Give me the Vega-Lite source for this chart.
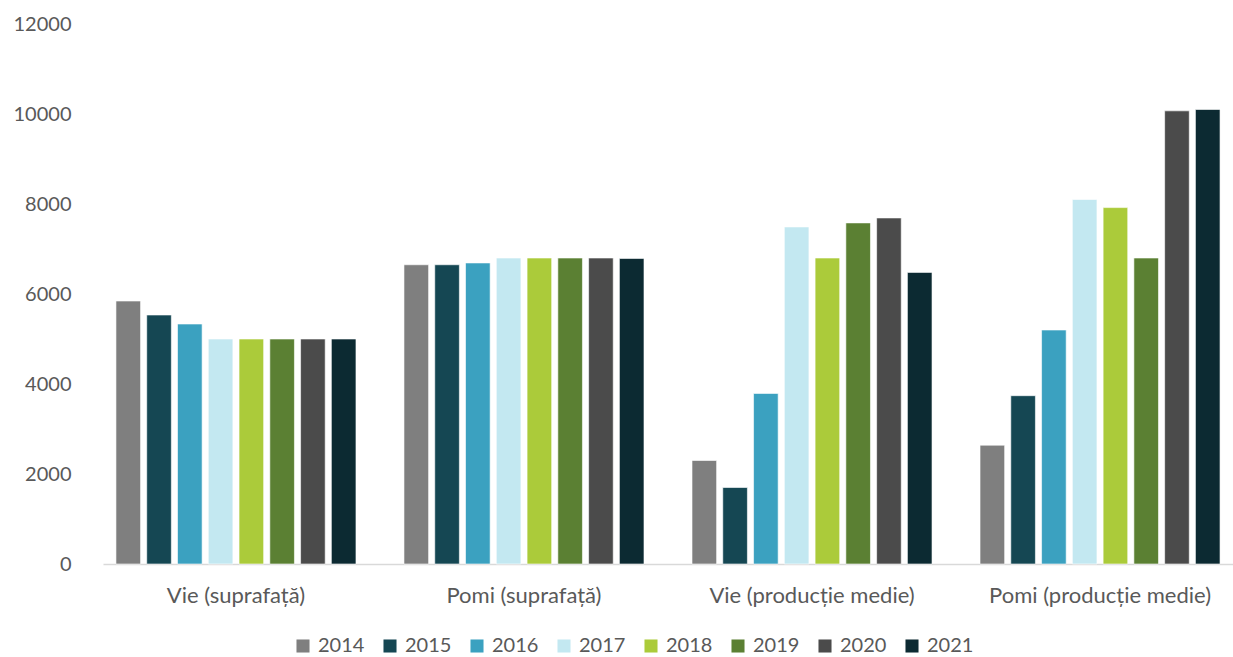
{
  "$schema": "https://vega.github.io/schema/vega-lite/v6.json",
  "autosize": "none",
  "width": 1130,
  "height": 540,
  "padding": {"left": 103, "top": 24, "right": 0, "bottom": 93},
  "background": "white",
  "config": {
    "view": {"stroke": null},
    "font": "Lato",
    "axis": {"labelFont": "Lato", "labelColor": "#595959", "labelFontSize": 20, "grid": false, "ticks": false, "title": null},
    "legend": {"labelFont": "Lato", "labelColor": "#595959", "labelFontSize": 20}
  },
  "data": {
    "values": [
      {"cat": "Vie (suprafață)", "year": "2014", "value": 5844},
      {"cat": "Vie (suprafață)", "year": "2015", "value": 5533},
      {"cat": "Vie (suprafață)", "year": "2016", "value": 5333},
      {"cat": "Vie (suprafață)", "year": "2017", "value": 5000},
      {"cat": "Vie (suprafață)", "year": "2018", "value": 5000},
      {"cat": "Vie (suprafață)", "year": "2019", "value": 5000},
      {"cat": "Vie (suprafață)", "year": "2020", "value": 5000},
      {"cat": "Vie (suprafață)", "year": "2021", "value": 5000},
      {"cat": "Pomi (suprafață)", "year": "2014", "value": 6650},
      {"cat": "Pomi (suprafață)", "year": "2015", "value": 6650},
      {"cat": "Pomi (suprafață)", "year": "2016", "value": 6690},
      {"cat": "Pomi (suprafață)", "year": "2017", "value": 6800},
      {"cat": "Pomi (suprafață)", "year": "2018", "value": 6800},
      {"cat": "Pomi (suprafață)", "year": "2019", "value": 6800},
      {"cat": "Pomi (suprafață)", "year": "2020", "value": 6800},
      {"cat": "Pomi (suprafață)", "year": "2021", "value": 6790},
      {"cat": "Vie (producție medie)", "year": "2014", "value": 2300},
      {"cat": "Vie (producție medie)", "year": "2015", "value": 1700},
      {"cat": "Vie (producție medie)", "year": "2016", "value": 3790},
      {"cat": "Vie (producție medie)", "year": "2017", "value": 7490},
      {"cat": "Vie (producție medie)", "year": "2018", "value": 6800},
      {"cat": "Vie (producție medie)", "year": "2019", "value": 7580},
      {"cat": "Vie (producție medie)", "year": "2020", "value": 7690},
      {"cat": "Vie (producție medie)", "year": "2021", "value": 6480},
      {"cat": "Pomi (producție medie)", "year": "2014", "value": 2640},
      {"cat": "Pomi (producție medie)", "year": "2015", "value": 3740},
      {"cat": "Pomi (producție medie)", "year": "2016", "value": 5200},
      {"cat": "Pomi (producție medie)", "year": "2017", "value": 8100},
      {"cat": "Pomi (producție medie)", "year": "2018", "value": 7920},
      {"cat": "Pomi (producție medie)", "year": "2019", "value": 6800},
      {"cat": "Pomi (producție medie)", "year": "2020", "value": 10070},
      {"cat": "Pomi (producție medie)", "year": "2021", "value": 10100}
    ]
  },
  "mark": {"type": "bar", "stroke": "white", "strokeWidth": 0.6},
  "encoding": {
    "x": {
      "field": "cat", "type": "nominal", "sort": null,
      "scale": {"paddingInner": 0.1667, "paddingOuter": 0.045},
      "axis": {"labelAngle": 0, "domain": true, "domainColor": "#D9D9D9", "domainWidth": 1.5, "labelPadding": 21, "labelFontSize": 22, "labelLimit": 0}
    },
    "xOffset": {
      "field": "year", "type": "nominal", "sort": null,
      "scale": {"paddingInner": 0.2}
    },
    "y": {
      "field": "value", "type": "quantitative",
      "scale": {"domain": [0, 12000]},
      "axis": {"values": [0, 2000, 4000, 6000, 8000, 10000, 12000], "format": "d", "domain": false, "labelPadding": 32}
    },
    "color": {
      "field": "year", "type": "nominal", "sort": null,
      "scale": {
        "domain": ["2014", "2015", "2016", "2017", "2018", "2019", "2020", "2021"],
        "range": ["#7F7F7F", "#154753", "#3BA1C0", "#C3E8F1", "#ABCB3A", "#5B8033", "#4B4B4B", "#0C2A32"]
      },
      "legend": {
        "orient": "none", "legendX": 190, "legendY": 612, "direction": "horizontal",
        "title": null, "symbolType": "square", "symbolSize": 170, "symbolStrokeWidth": 0,
        "columns": 8, "columnPadding": 15, "labelOffset": 5
      }
    }
  }
}
